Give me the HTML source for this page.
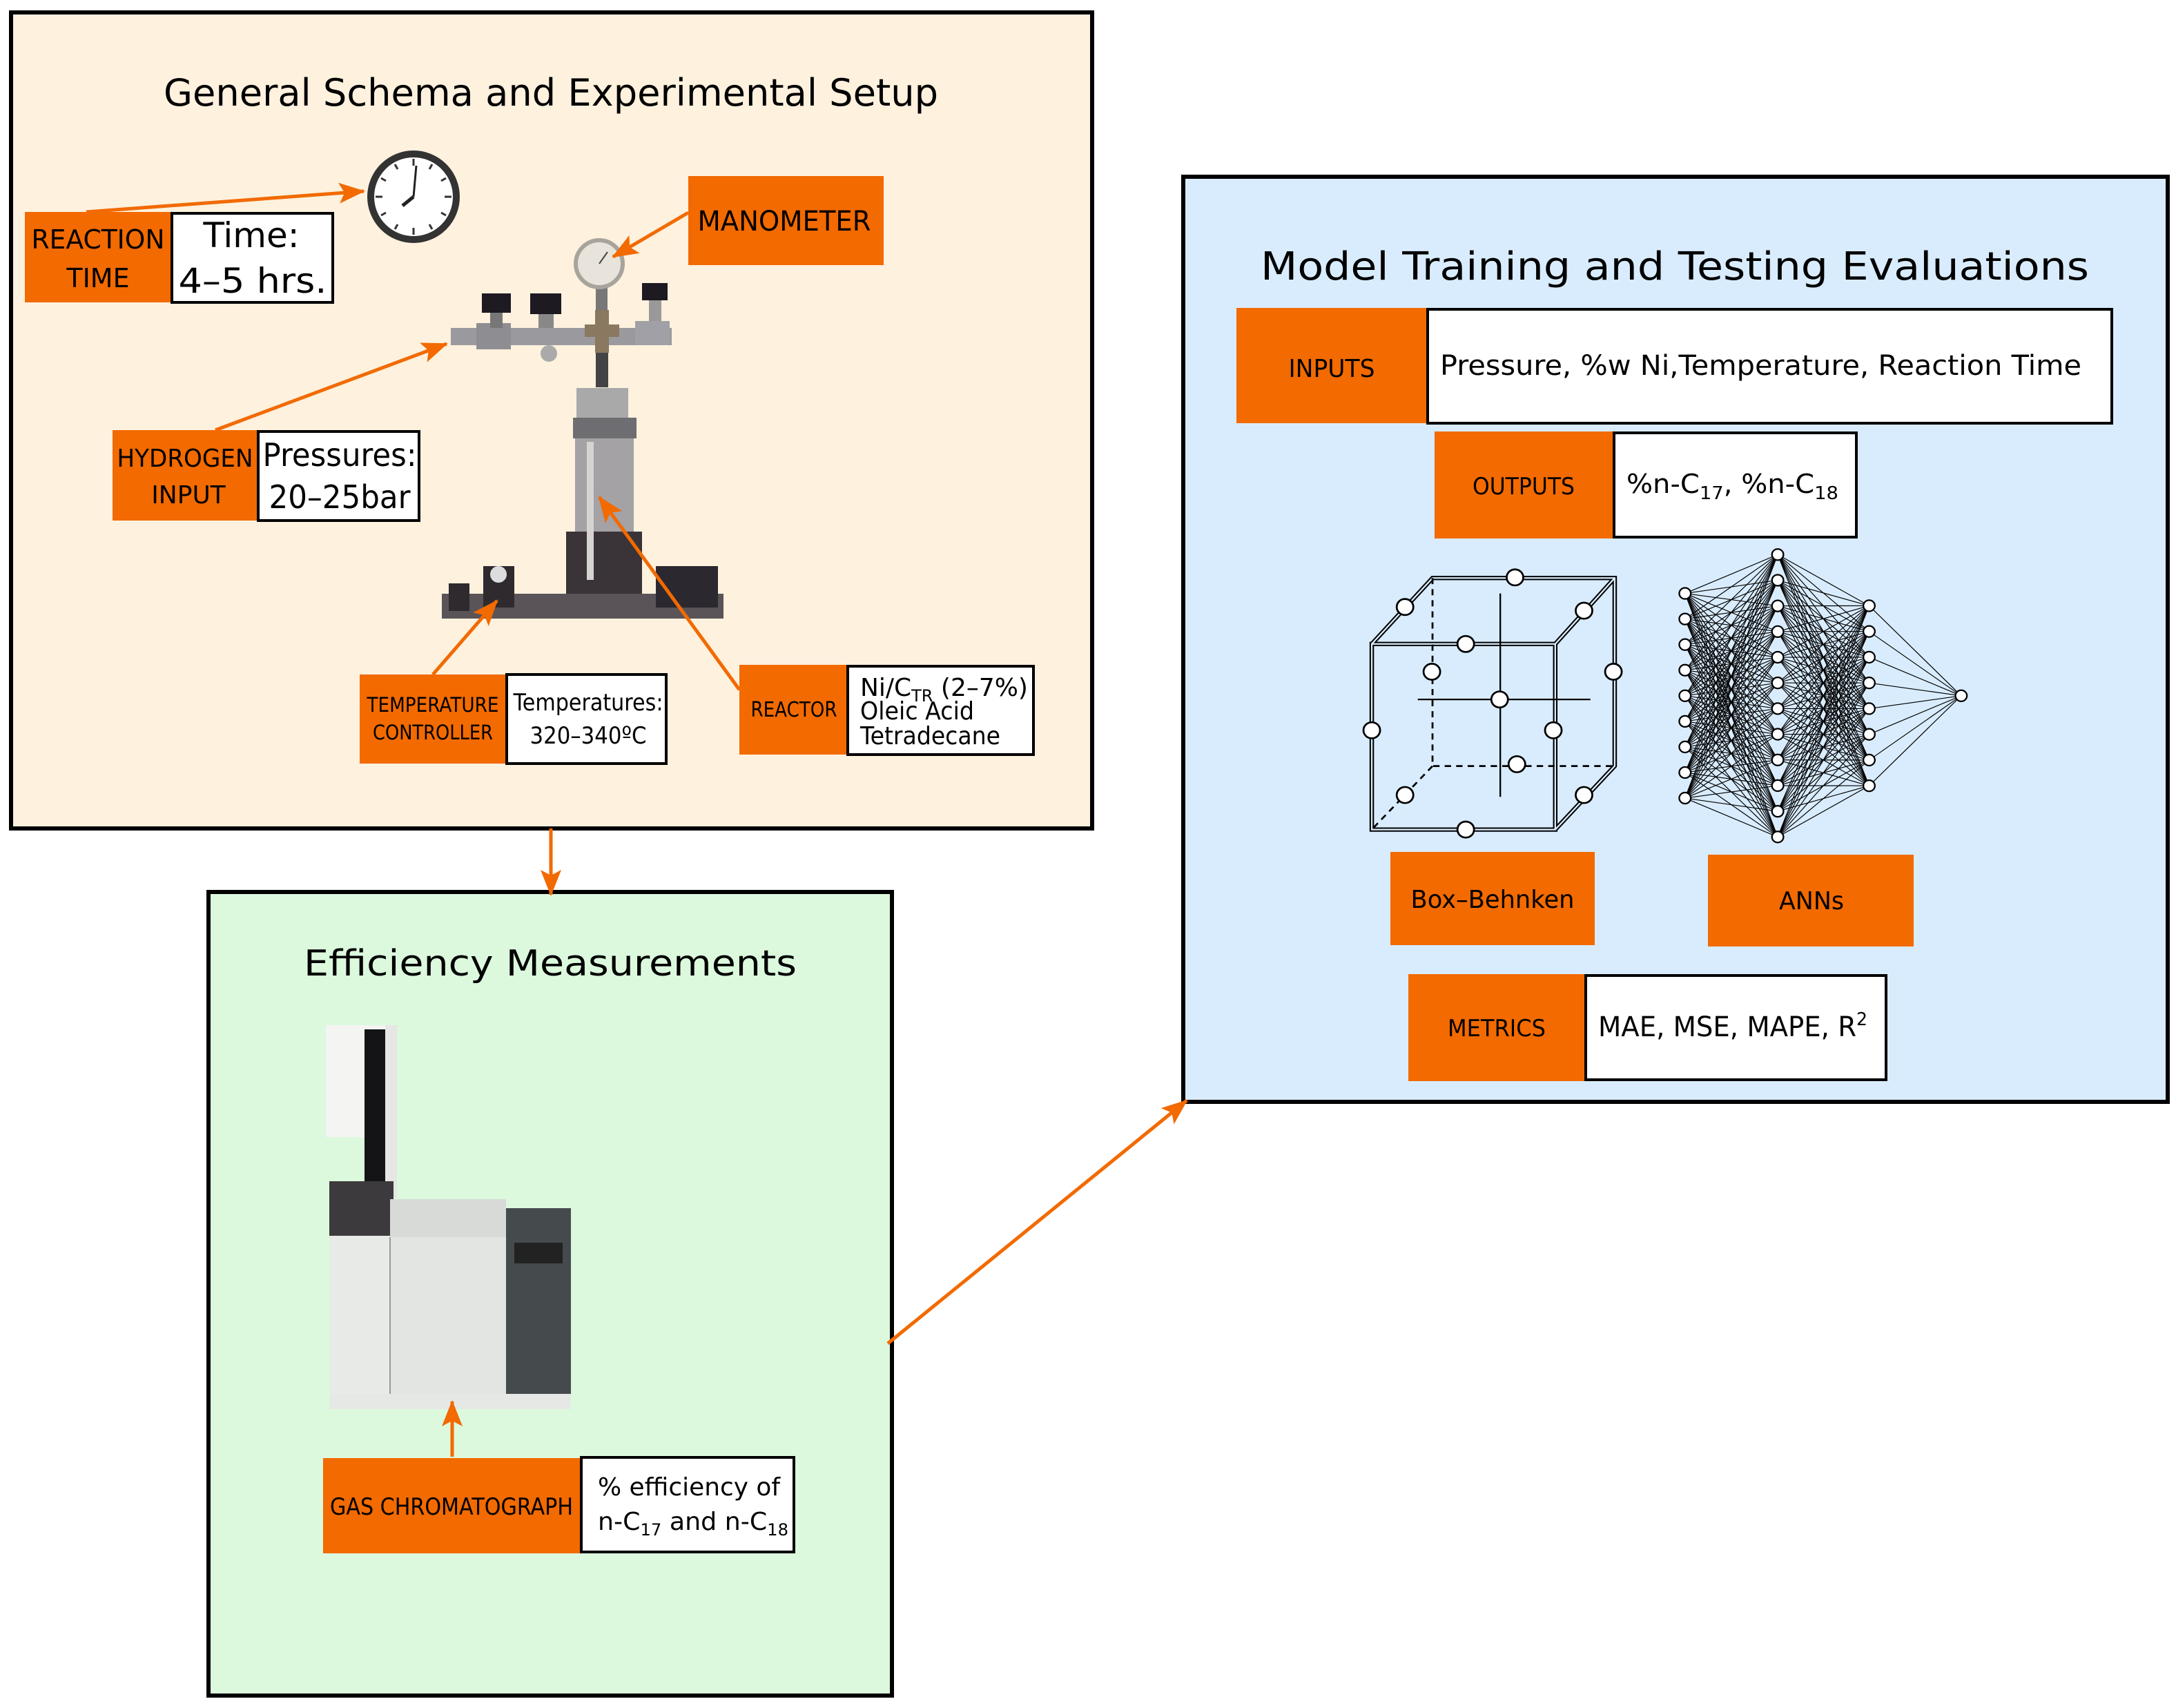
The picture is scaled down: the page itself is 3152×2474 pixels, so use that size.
<!DOCTYPE html>
<html><head><meta charset="utf-8"><style>
html,body{margin:0;padding:0;background:#fff;}
svg{display:block;}
text{font-family:"DejaVu Sans","Liberation Sans",sans-serif;fill:#000;}
</style></head><body>
<svg id="s" xmlns="http://www.w3.org/2000/svg" width="3152" height="2474" viewBox="0 0 3152 2474">
<defs>
<marker id="ah" markerUnits="userSpaceOnUse" markerWidth="40" markerHeight="34" refX="36" refY="15" orient="auto">
<path d="M0,0 L38,15 L0,30 L8,15 Z" fill="#f26a00"/>
</marker>
</defs>
<rect width="3152" height="2474" fill="#fff"/>

<!-- TOP PANEL -->
<rect x="16" y="18" width="1566" height="1182" fill="#fef1de" stroke="#000" stroke-width="6"/>
<text x="798" y="153" font-size="54" text-anchor="middle" textLength="1122" lengthAdjust="spacingAndGlyphs">General Schema and Experimental Setup</text>

<!-- clock -->
<circle cx="599" cy="285" r="62" fill="#fff" stroke="#333" stroke-width="10"/>
<g stroke="#333" stroke-width="3">
<line x1="599" y1="230" x2="599" y2="240"/><line x1="599" y1="330" x2="599" y2="340"/>
<line x1="544" y1="285" x2="554" y2="285"/><line x1="644" y1="285" x2="654" y2="285"/>
<line x1="626" y1="238" x2="622" y2="245"/><line x1="572" y1="238" x2="576" y2="245"/>
<line x1="626" y1="332" x2="622" y2="325"/><line x1="572" y1="332" x2="576" y2="325"/>
<line x1="646" y1="258" x2="639" y2="262"/><line x1="552" y1="258" x2="559" y2="262"/>
<line x1="646" y1="312" x2="639" y2="308"/><line x1="552" y1="312" x2="559" y2="308"/>
</g>
<line x1="599" y1="285" x2="603" y2="240" stroke="#222" stroke-width="3"/>
<line x1="599" y1="285" x2="583" y2="298" stroke="#222" stroke-width="5"/>

<!-- apparatus -->
<g>
<rect x="653" y="475" width="320" height="25" fill="#9a9a9e"/>
<rect x="690" y="468" width="50" height="38" fill="#8e8e92"/>
<rect x="698" y="425" width="42" height="28" fill="#1e1a22"/>
<rect x="710" y="453" width="18" height="22" fill="#777"/>
<rect x="768" y="425" width="45" height="30" fill="#1e1a22"/>
<rect x="780" y="455" width="22" height="20" fill="#888"/>
<circle cx="795" cy="512" r="12" fill="#aaa"/>
<rect x="930" y="410" width="37" height="25" fill="#1e1a22"/>
<rect x="940" y="435" width="18" height="40" fill="#999"/>
<rect x="920" y="465" width="50" height="35" fill="#a0a0a6"/>
<rect x="863" y="405" width="17" height="44" fill="#777"/>
<circle cx="868" cy="382" r="34" fill="#e8e4dc" stroke="#a8a49c" stroke-width="6"/>
<line x1="868" y1="382" x2="880" y2="365" stroke="#444" stroke-width="2"/>
<rect x="847" y="470" width="50" height="18" fill="#8a7860"/>
<rect x="862" y="449" width="20" height="62" fill="#8a7860"/>
<rect x="863" y="511" width="18" height="50" fill="#444"/>
<rect x="835" y="562" width="75" height="45" fill="#a9a9aa"/>
<rect x="830" y="605" width="92" height="30" fill="#6e6e72"/>
<rect x="833" y="635" width="85" height="135" fill="#a4a2a4"/>
<rect x="820" y="770" width="110" height="125" fill="#3a3438"/>
<rect x="640" y="860" width="408" height="36" fill="#5a5458"/>
<rect x="700" y="820" width="45" height="60" fill="#2e2a2e"/>
<circle cx="722" cy="832" r="12" fill="#ddd"/>
<rect x="950" y="820" width="90" height="60" fill="#2c2830"/>
<rect x="650" y="845" width="30" height="40" fill="#2e2a2e"/>
<rect x="850" y="640" width="10" height="200" fill="#d6d4d2"/>
</g>

<!-- labels top -->
<rect x="36" y="307" width="213" height="131" fill="#f26a00"/>
<text x="142" y="360" font-size="38" text-anchor="middle" textLength="193" lengthAdjust="spacingAndGlyphs">REACTION</text>
<text x="142" y="416" font-size="38" text-anchor="middle">TIME</text>
<rect x="249" y="309" width="233" height="129" fill="#fff" stroke="#000" stroke-width="4"/>
<text x="364" y="358" font-size="50" text-anchor="middle">Time:</text>
<text x="366" y="424" font-size="50" text-anchor="middle" textLength="215" lengthAdjust="spacingAndGlyphs">4–5 hrs.</text>

<rect x="997" y="255" width="283" height="129" fill="#f26a00"/>
<text x="1136" y="334" font-size="40" text-anchor="middle" textLength="251" lengthAdjust="spacingAndGlyphs">MANOMETER</text>

<rect x="163" y="623" width="211" height="131" fill="#f26a00"/>
<text x="268" y="676" font-size="36" text-anchor="middle" textLength="197" lengthAdjust="spacingAndGlyphs">HYDROGEN</text>
<text x="273" y="729" font-size="36" text-anchor="middle">INPUT</text>
<rect x="374" y="625" width="233" height="129" fill="#fff" stroke="#000" stroke-width="4"/>
<text x="492" y="675" font-size="46" text-anchor="middle" textLength="223" lengthAdjust="spacingAndGlyphs">Pressures:</text>
<text x="492" y="736" font-size="46" text-anchor="middle" textLength="205" lengthAdjust="spacingAndGlyphs">20–25bar</text>

<rect x="521" y="977" width="213" height="129" fill="#f26a00"/>
<text x="627" y="1031" font-size="29" text-anchor="middle" textLength="191" lengthAdjust="spacingAndGlyphs">TEMPERATURE</text>
<text x="627" y="1071" font-size="29" text-anchor="middle" textLength="174" lengthAdjust="spacingAndGlyphs">CONTROLLER</text>
<rect x="734" y="977" width="231" height="129" fill="#fff" stroke="#000" stroke-width="4"/>
<text x="852" y="1029" font-size="34" text-anchor="middle" textLength="217" lengthAdjust="spacingAndGlyphs">Temperatures:</text>
<text x="852" y="1077" font-size="34" text-anchor="middle" textLength="169" lengthAdjust="spacingAndGlyphs">320–340ºC</text>

<rect x="1071" y="963" width="157" height="130" fill="#f26a00"/>
<text x="1150" y="1038" font-size="30" text-anchor="middle" textLength="125" lengthAdjust="spacingAndGlyphs">REACTOR</text>
<rect x="1228" y="965" width="269" height="128" fill="#fff" stroke="#000" stroke-width="4"/>
<text x="1246" y="1008" font-size="36" textLength="243" lengthAdjust="spacingAndGlyphs">Ni/C<tspan font-size="24" dy="8">TR</tspan><tspan dy="-8"> (2–7%)</tspan></text>
<text x="1246" y="1042" font-size="36" textLength="165" lengthAdjust="spacingAndGlyphs">Oleic Acid</text>
<text x="1246" y="1078" font-size="36" textLength="203" lengthAdjust="spacingAndGlyphs">Tetradecane</text>

<!-- GREEN PANEL -->
<rect x="302" y="1292" width="990" height="1164" fill="#dcf9de" stroke="#000" stroke-width="6"/>
<text x="797" y="1413" font-size="52" text-anchor="middle" textLength="714" lengthAdjust="spacingAndGlyphs">Efficiency Measurements</text>

<!-- GC -->
<g>
<rect x="472" y="1485" width="101" height="162" fill="#f4f4f2"/>
<rect x="528" y="1491" width="30" height="242" fill="#141416"/>
<rect x="558" y="1485" width="17" height="250" fill="#e6e6e4"/>
<rect x="477" y="1711" width="93" height="80" fill="#3c3a3c"/>
<rect x="477" y="1790" width="88" height="230" fill="#e8eae8"/>
<rect x="565" y="1737" width="168" height="283" fill="#e3e5e3"/>
<rect x="565" y="1737" width="168" height="55" fill="#d8dad8"/>
<line x1="565" y1="1792" x2="565" y2="2020" stroke="#9a9c9a" stroke-width="2"/>
<rect x="733" y="1750" width="94" height="270" fill="#454b4d"/>
<rect x="745" y="1800" width="70" height="30" fill="#222"/>
<rect x="477" y="2019" width="350" height="22" fill="#e6e8e6"/>
</g>

<rect x="468" y="2112" width="372" height="138" fill="#f26a00"/>
<text x="654" y="2194" font-size="34" text-anchor="middle" textLength="352" lengthAdjust="spacingAndGlyphs">GAS CHROMATOGRAPH</text>
<rect x="842" y="2111" width="308" height="137" fill="#fff" stroke="#000" stroke-width="4"/>
<text x="866" y="2166" font-size="36" textLength="264" lengthAdjust="spacingAndGlyphs">% efficiency of</text>
<text x="866" y="2216" font-size="36" textLength="276" lengthAdjust="spacingAndGlyphs">n-C<tspan font-size="24" dy="8">17</tspan><tspan dy="-8"> and n-C</tspan><tspan font-size="24" dy="8">18</tspan></text>

<!-- BLUE PANEL -->
<rect x="1714" y="256" width="1426" height="1340" fill="#d9ecfd" stroke="#000" stroke-width="6"/>
<text x="2426" y="405" font-size="56" text-anchor="middle" textLength="1200" lengthAdjust="spacingAndGlyphs">Model Training and Testing Evaluations</text>

<rect x="1791" y="446" width="275" height="167" fill="#f26a00"/>
<text x="1929" y="546" font-size="36" text-anchor="middle" textLength="125" lengthAdjust="spacingAndGlyphs">INPUTS</text>
<rect x="2068" y="448" width="991" height="165" fill="#fff" stroke="#000" stroke-width="4"/>
<text x="2086" y="543" font-size="40" textLength="929" lengthAdjust="spacingAndGlyphs">Pressure, %w Ni,Temperature, Reaction Time</text>

<rect x="2078" y="625" width="258" height="155" fill="#f26a00"/>
<text x="2207" y="716" font-size="34" text-anchor="middle" textLength="148" lengthAdjust="spacingAndGlyphs">OUTPUTS</text>
<rect x="2338" y="627" width="351" height="151" fill="#fff" stroke="#000" stroke-width="4"/>
<text x="2356" y="714" font-size="38" textLength="307" lengthAdjust="spacingAndGlyphs">%n-C<tspan font-size="26" dy="9">17</tspan><tspan dy="-9">, %n-C</tspan><tspan font-size="26" dy="9">18</tspan></text>

<!-- cube + ANN in zoom coords -->
<g transform="translate(1700,230) scale(0.926,0.893)">
 <g fill="none" stroke="#000" stroke-width="7">
  <path d="M310,787 L597,787 L597,1088 L310,1088 Z"/>
  <path d="M310,787 L405,680 L690,680 L690,985 L597,1088 M597,787 L690,680"/>
 </g>
 <g fill="none" stroke="#d9ecfd" stroke-width="2.5">
  <path d="M310,787 L597,787 L597,1088 L310,1088 Z"/>
  <path d="M310,787 L405,680 L690,680 L690,985 L597,1088 M597,787 L690,680"/>
 </g>
 <g fill="none" stroke="#000" stroke-width="3" stroke-dasharray="10,8">
  <path d="M405,680 L405,985 L690,985 M405,985 L310,1088"/>
 </g>
 <g stroke="#000" stroke-width="2.5">
  <line x1="511" y1="705" x2="511" y2="1035"/>
  <line x1="382" y1="877" x2="652" y2="877"/>
 </g>
 <g fill="#fff" stroke="#000" stroke-width="3">
  <circle cx="534" cy="679" r="13"/><circle cx="362" cy="727" r="13"/><circle cx="642" cy="733" r="13"/>
  <circle cx="457" cy="787" r="13"/><circle cx="404" cy="832" r="13"/><circle cx="688" cy="832" r="13"/>
  <circle cx="510" cy="877" r="13"/><circle cx="310" cy="927" r="13"/><circle cx="594" cy="927" r="13"/>
  <circle cx="537" cy="982" r="13"/><circle cx="362" cy="1032" r="13"/><circle cx="642" cy="1032" r="13"/>
  <circle cx="457" cy="1088" r="13"/>
 </g>
 <g id="ann"></g>
</g>

<rect x="2014" y="1234" width="296" height="135" fill="#f26a00"/>
<text x="2162" y="1315" font-size="36" text-anchor="middle" textLength="237" lengthAdjust="spacingAndGlyphs">Box–Behnken</text>
<rect x="2474" y="1238" width="298" height="133" fill="#f26a00"/>
<text x="2624" y="1317" font-size="36" text-anchor="middle" textLength="94" lengthAdjust="spacingAndGlyphs">ANNs</text>

<rect x="2040" y="1411" width="255" height="155" fill="#f26a00"/>
<text x="2168" y="1501" font-size="34" text-anchor="middle" textLength="142" lengthAdjust="spacingAndGlyphs">METRICS</text>
<rect x="2297" y="1413" width="435" height="151" fill="#fff" stroke="#000" stroke-width="4"/>
<text x="2315" y="1501" font-size="40" textLength="390" lengthAdjust="spacingAndGlyphs">MAE, MSE, MAPE, R<tspan font-size="26" dy="-16">2</tspan></text>

<!-- ARROWS -->
<g stroke="#f26a00" stroke-width="5" fill="none" marker-end="url(#ah)">
<line x1="125" y1="307" x2="527" y2="277"/>
<line x1="997" y1="308" x2="888" y2="372"/>
<line x1="312" y1="623" x2="647" y2="498"/>
<line x1="627" y1="977" x2="720" y2="870"/>
<line x1="1071" y1="999" x2="868" y2="720"/>
<line x1="798" y1="1200" x2="798" y2="1296"/>
<line x1="655" y1="2110" x2="655" y2="2030"/>
<line x1="1286" y1="1946" x2="1719" y2="1594"/>
</g>
</svg>
<script>
(function(){
var ns="http://www.w3.org/2000/svg",g=document.getElementById("ann");
function ys(a,b,n){var r=[];for(var i=0;i<n;i++)r.push(a+(b-a)*i/(n-1));return r;}
var L=[[800,ys(705,1037,9)],[945,ys(642,1100,12)],[1088,ys(725,1017,8)],[1232,[871]]];
for(var l=0;l<3;l++){var A=L[l],B=L[l+1];A[1].forEach(function(y1){B[1].forEach(function(y2){
var e=document.createElementNS(ns,"line");e.setAttribute("x1",A[0]);e.setAttribute("y1",y1);e.setAttribute("x2",B[0]);e.setAttribute("y2",y2);
e.setAttribute("stroke","#000");e.setAttribute("stroke-width","1.3");g.appendChild(e);});});}
L.forEach(function(c){c[1].forEach(function(y){var e=document.createElementNS(ns,"circle");e.setAttribute("cx",c[0]);e.setAttribute("cy",y);e.setAttribute("r","9");e.setAttribute("fill","#fff");e.setAttribute("stroke","#000");e.setAttribute("stroke-width","2.5");g.appendChild(e);});});
})();
</script>
</body></html>
